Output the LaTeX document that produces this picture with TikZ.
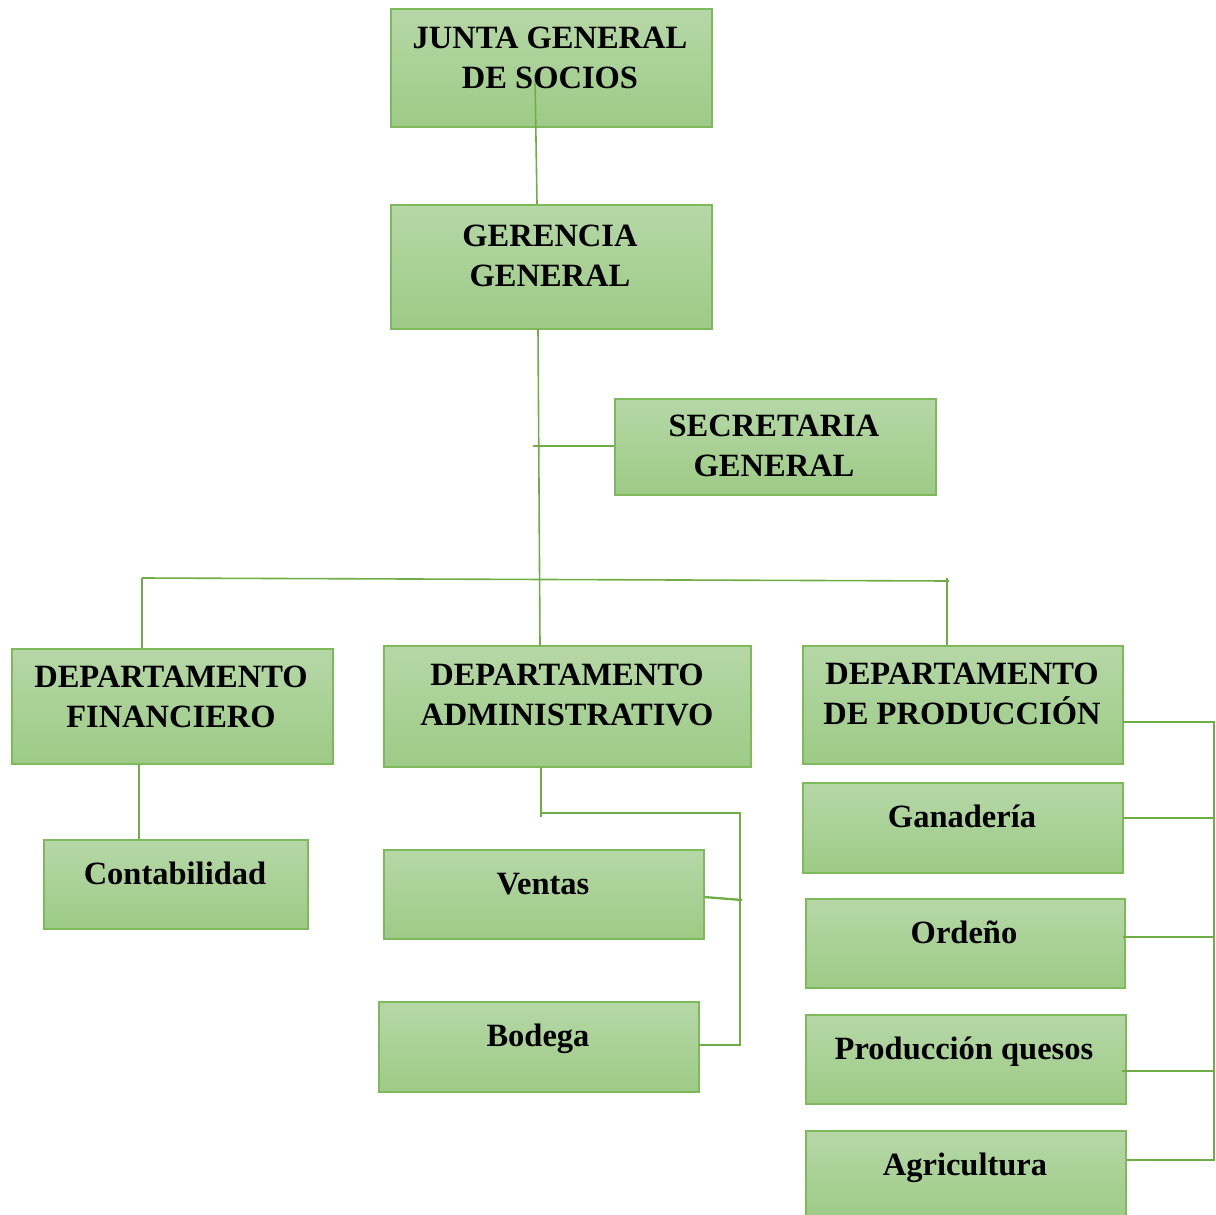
\documentclass[tikz,border=0pt]{standalone}
\usepackage{fontspec}
\setmainfont{Liberation Serif}
\definecolor{boxtop}{RGB}{182,215,167}
\definecolor{boxbot}{RGB}{157,203,134}
\definecolor{boxline}{RGB}{126,185,92}
\definecolor{conncol}{RGB}{112,173,71}
\begin{document}
\begin{tikzpicture}[x=1pt,y=-1pt,
  orgbox/.style={draw=boxline, line width=1.8pt, top color=boxtop, bottom color=boxbot,
    anchor=north west, inner sep=0pt},
  lbl/.style={font=\bfseries\fontsize{32.5}{40}\selectfont, align=center, inner sep=0pt},
  onel/.style={lbl, text height=21pt, text depth=0pt},
  conn/.style={draw=conncol, line width=1.6pt},
  connb/.style={draw=conncol, line width=2.3pt}]
\useasboundingbox (0,0) rectangle (1216,1215);
% boxes
\node[orgbox, minimum width=321pt, minimum height=118pt] (junta) at (390,8) {};
\node[orgbox, minimum width=321pt, minimum height=124pt] (gerencia) at (390,204) {};
\node[orgbox, minimum width=321pt, minimum height=96pt] (secretaria) at (614,398) {};
\node[orgbox, minimum width=321pt, minimum height=115pt] (fin) at (11,648) {};
\node[orgbox, minimum width=367pt, minimum height=121pt] (adm) at (383,645) {};
\node[orgbox, minimum width=320pt, minimum height=118pt] (prod) at (802,645) {};
\node[orgbox, minimum width=264pt, minimum height=89pt] (cont) at (43,839) {};
\node[orgbox, minimum width=320pt, minimum height=89pt] (ventas) at (383,849) {};
\node[orgbox, minimum width=320pt, minimum height=90pt] (bodega) at (378,1001) {};
\node[orgbox, minimum width=320pt, minimum height=90pt] (gan) at (802,782) {};
\node[orgbox, minimum width=319pt, minimum height=89pt] (ord) at (805,898) {};
\node[orgbox, minimum width=320pt, minimum height=89pt] (ques) at (805,1014) {};
\node[orgbox, minimum width=320pt, minimum height=91pt] (agri) at (805,1130) {};
% connectors
\coordinate (j1) at (535,75);
\coordinate (g1) at (537,204);
\draw[conn] (j1) -- (g1);
\coordinate (g2) at (538,329);
\coordinate (a1) at (540,645);
\draw[conn] (g2) -- (a1);
\coordinate (s1) at (533,446);
\coordinate (s2) at (614,446);
\draw[conn] (s1) -- (s2);
\coordinate (b1) at (142,578);
\coordinate (b2) at (949,581);
\coordinate (b3) at (947,578);
\coordinate (f1) at (142,648);
\coordinate (p1) at (947,645);
\draw[conn] (b1) -- (b2);
\draw[conn] (f1) -- (b1);
\draw[conn] (b3) -- (p1);
\coordinate (f2) at (139,764);
\coordinate (c1) at (139,839);
\draw[conn] (f2) -- (c1);
\coordinate (a2) at (541,767);
\coordinate (a3) at (541,817);
\coordinate (a4) at (541,813);
\coordinate (a5) at (740,813);
\coordinate (a6) at (740,1045);
\coordinate (bo1) at (699,1045);
\draw[conn] (a2) -- (a3);
\draw[connb] (a4) -- (a5) -- (a6) -- (bo1);
\coordinate (v1) at (704,897);
\coordinate (v2) at (742,900);
\draw[connb] (v1) -- (v2);
\coordinate (p2) at (1123,722);
\coordinate (p3) at (1214,722);
\coordinate (p4) at (1214,1160);
\coordinate (ag1) at (1127,1160);
\draw[connb] (p2) -- (p3) -- (p4) -- (ag1);
\coordinate (ga1) at (1123,818);
\coordinate (ga2) at (1214,818);
\draw[connb] (ga1) -- (ga2);
\coordinate (o1) at (1123,937);
\coordinate (o2) at (1214,937);
\draw[connb] (o1) -- (o2);
\coordinate (q1) at (1122,1071);
\coordinate (q2) at (1214,1071);
\draw[connb] (q1) -- (q2);
% labels
\node[lbl] (juntat) at (550,57.5) {JUNTA GENERAL\\DE SOCIOS};
\node[lbl] (gerenciat) at (550,255.5) {GERENCIA\\GENERAL};
\node[lbl] (secretariat) at (774,446) {SECRETARIA\\GENERAL};
\node[lbl] (fint) at (171,697) {DEPARTAMENTO\\FINANCIERO};
\node[lbl] (admt) at (567,694.5) {DEPARTAMENTO\\ADMINISTRATIVO};
\node[lbl] (prodt) at (962,694) {DEPARTAMENTO\\DE PRODUCCIÓN};
\node[onel] (contt) at (175,874) {Contabilidad};
\node[onel] (ventast) at (543,884) {Ventas};
\node[onel] (bodegat) at (538,1036) {Bodega};
\node[onel] (gant) at (962,817) {Ganadería};
\node[onel] (ordt) at (964,933) {Ordeño};
\node[onel] (quest) at (964,1049) {Producción quesos};
\node[onel] (agrit) at (965,1165) {Agricultura};
\end{tikzpicture}
\end{document}
